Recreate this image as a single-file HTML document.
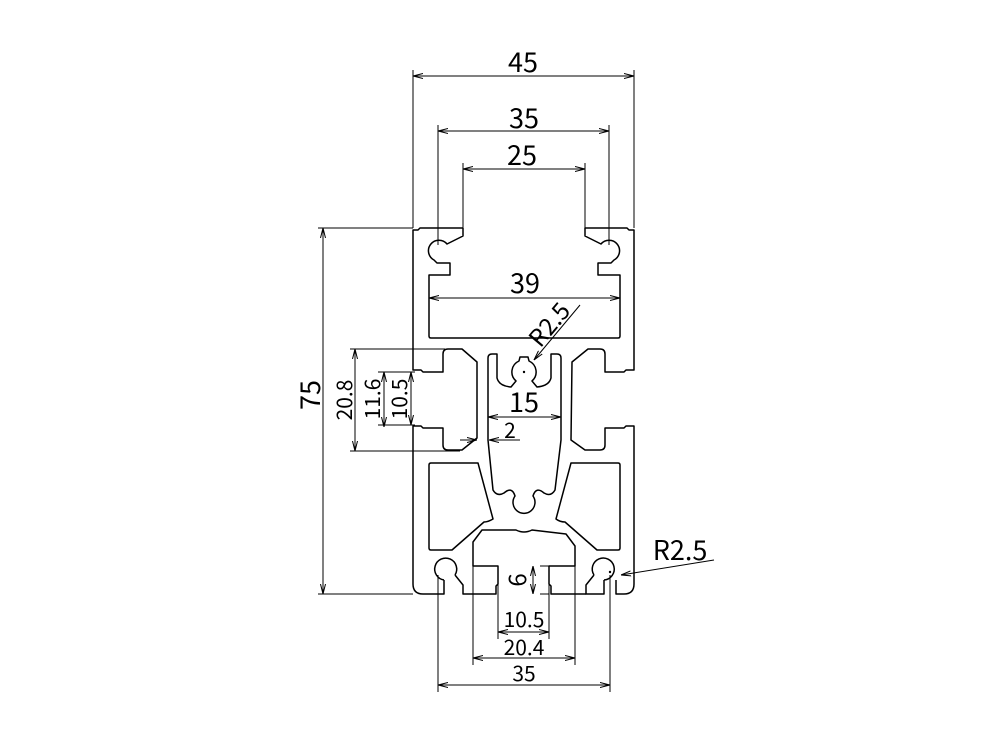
<!DOCTYPE html>
<html><head><meta charset="utf-8"><style>
html,body{margin:0;padding:0;background:#fff;}
svg{display:block}
text{font-family:"Noto Sans CJK SC","Liberation Sans",sans-serif;fill:#000}
</style></head><body>
<svg width="1000" height="750" viewBox="0 0 1000 750" xmlns="http://www.w3.org/2000/svg">
<defs>
<marker id="a" viewBox="0 0 10 6" refX="10" refY="3" markerWidth="10" markerHeight="6" orient="auto-start-reverse" markerUnits="userSpaceOnUse">
<path d="M0,0.5 L10,3 L0,5.5" fill="none" stroke="#000" stroke-width="1"/></marker>
</defs>
<g fill="none" stroke="#000" stroke-width="1.5" stroke-linejoin="round">
<path d="M463,228 L463,236 L447,244 A10.5,10.5 0 1 0 434,260 L437,263 L450,263 L450,275 L429,275 L429,336 Q429,338 431,338 L618,338 Q620,338 620,336 L620,275 L598,275 L598,263 L611,263 L614,260 A10.5,10.5 0 1 0 601,244 L585,236 L585,228 L627,228 L629,230 L634,230 L634,370 L626,370 L624,372 L605,372 L605,354 Q605,349 600,349 L588,349 L572,362 L571,440 L585,450 L600,450 Q605,450 605,445 L605,428 L624,428 L626,426 L634,426 L634,584 Q634,594 624,594 L616,594 L616,580"/>
<path d="M604,580 L604,594 L586,594 L586,585 L594,575"/>
<path d="M586,594 L551,594 L551,586 L549,584 L549,566 L575,566 L575,546 L566,534 L532,530 Q524,534 516,530 L482,530 L473,542 L473,566 L498,566 L498,584 L496,586 L496,594 L463,594 L463,585 L455,575"/>
<path d="M444,580 L444,594 L423,594 Q413,594 413,584 L413,426 L421,426 L423,428 L443,428 L443,445 Q443,450 448,450 L462,450 L477,438 L477,362 L462,349 L448,349 Q443,349 443,354 L443,372 L423,372 L421,370 L413,370 L413,230 L418,230 L420,228 L463,228"/>
<path d="M455,575 A11,11 0 1 0 444,580"/>
<path d="M594,575 A11,11 0 1 1 604,580"/>
<path d="M497,354 L497,378 Q499,386 511,387 L516,381 A12,12 0 0 1 519,361 L520,357 L528,357 L529,361 A12,12 0 0 1 532,381 L537,387 Q549,386 551,378 L551,354 L557,354 Q561,354 561,358 L561,440 L555,490 Q551,497 544,493 Q536,486 533,496 A11,11 0 1 1 515,496 Q512,486 504,493 Q497,497 493,490 L488,440 L488,358 Q488,354 492,354 Z"/>
<path d="M431,463 L478,463 L493,519 Q488,522 484,522 L452,550 L431,550 Q429,550 429,548 L429,465 Q429,463 431,463 Z"/>
<path d="M571,463 L618,463 Q620,463 620,465 L620,548 Q620,550 618,550 L597,550 L565,522 Q560,522 556,519 Z"/>
</g>
<circle cx="524" cy="372" r="1.2" fill="#000"/>
<circle cx="610" cy="572" r="1.2" fill="#000"/>
<g stroke="#000" stroke-width="1" fill="none">
<path d="M413,70 V228 M634,70 V228 M438,125 V245 M609,125 V245 M463,163 V228 M585,163 V228"/>
<path d="M318,228 H413 M318,594 H413"/>
<path d="M350,349 H445 M350,451 H460 M378,372 H415 M378,425 H415"/>
<path d="M438,575 V692 M610,575 V692 M473,566 V665 M575,566 V665 M498,566 V639 M549,566 V639 M549,566 H540 M549,594 H540"/>
<path d="M413,76 H634" marker-start="url(#a)" marker-end="url(#a)"/>
<path d="M438,131 H609" marker-start="url(#a)" marker-end="url(#a)"/>
<path d="M463,169 H585" marker-start="url(#a)" marker-end="url(#a)"/>
<path d="M429,298 H620" marker-start="url(#a)" marker-end="url(#a)"/>
<path d="M323,228 V594" marker-start="url(#a)" marker-end="url(#a)"/>
<path d="M355,349 V451" marker-start="url(#a)" marker-end="url(#a)"/>
<path d="M384,372 V427" marker-start="url(#a)" marker-end="url(#a)"/>
<path d="M411,372 V425" marker-start="url(#a)" marker-end="url(#a)"/>
<path d="M488,417 H561" marker-start="url(#a)" marker-end="url(#a)"/>
<path d="M520,440 H489" marker-end="url(#a)"/>
<path d="M460,440 H477" marker-end="url(#a)"/>
<path d="M580,305 L534,360" marker-end="url(#a)"/>
<path d="M714,560 L621,575" marker-end="url(#a)"/>
<path d="M533,566 V594" marker-start="url(#a)" marker-end="url(#a)"/>
<path d="M498,632 H549" marker-start="url(#a)" marker-end="url(#a)"/>
<path d="M473,658 H575" marker-start="url(#a)" marker-end="url(#a)"/>
<path d="M438,685 H610" marker-start="url(#a)" marker-end="url(#a)"/>
</g>
<g font-size="27" text-anchor="middle">
<text x="523" y="72">45</text>
<text x="524" y="128">35</text>
<text x="522" y="165">25</text>
<text x="525" y="293">39</text>
<text x="524" y="412">15</text>
<text x="680" y="560">R2.5</text>
<text transform="translate(320,395) rotate(-90)">75</text>
<text transform="translate(556,330) rotate(-50)" font-size="24">R2.5</text>
</g>
<g font-size="21" text-anchor="middle">
<text x="510" y="438">2</text>
<text transform="translate(352,400) rotate(-90)">20.8</text>
<text transform="translate(380,399) rotate(-90)">11.6</text>
<text transform="translate(407,399) rotate(-90)">10.5</text>
<text transform="translate(526,580) rotate(-90)" font-size="24">6</text>
<text x="524" y="627">10.5</text>
<text x="524" y="655">20.4</text>
<text x="524" y="681">35</text>
</g>
</svg>
</body></html>
